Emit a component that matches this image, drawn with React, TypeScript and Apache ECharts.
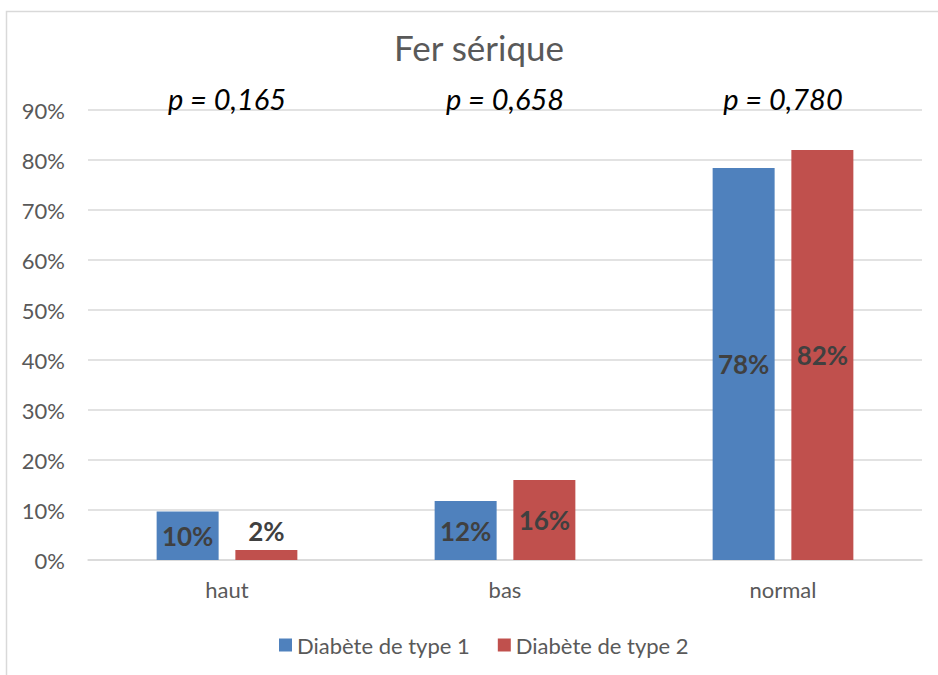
import React, { useEffect, useRef } from "react";
import * as echarts from "echarts";

const categories = ["haut", "bas", "normal"];
const pValues = ["p = 0,165", "p = 0,658", "p = 0,780"];
const seriesNames = ["Diabète de type 1", "Diabète de type 2"];
const type1 = [9.7, 11.8, 78.4];
const type2 = [2, 16, 82];
const type1Labels = ["10%", "12%", "78%"];
const type2Labels = ["2%", "16%", "82%"];
const yTicks = { min: 0, max: 90, interval: 10 };

const FONT = "Lato, 'Open Sans', sans-serif";

export default function App() {
  const ref = useRef<HTMLDivElement>(null);
  useEffect(() => {
    if (!ref.current) return;
    const chart = echarts.init(ref.current, null, { renderer: "svg" });
    const labelStyle = {
      show: true,
      position: "inside",
      fontSize: 26,
      fontWeight: "bold",
      color: "#404040",
      fontFamily: FONT,
    };
    chart.setOption({
      animation: false,
      backgroundColor: "#ffffff",
      textStyle: { fontFamily: FONT },
      title: {
        text: "Fer sérique",
        left: 474,
        textAlign: "center",
        top: 24,
        textStyle: { fontSize: 35, fontWeight: "normal", color: "#595959", fontFamily: FONT },
      },
      graphic: [
        {
          type: "rect",
          shape: { x: 6.5, y: 11.5, width: 960, height: 700 },
          style: { fill: "none", stroke: "#d9d9d9", lineWidth: 1.5 },
          silent: true,
          z: -1,
        },
      ],
      legend: {
        data: seriesNames,
        top: 629,
        left: 274,
        itemWidth: 13,
        itemHeight: 13,
        itemGap: 28,
        icon: "rect",
        textStyle: { fontSize: 22, color: "#595959", fontFamily: FONT },
      },
      grid: { left: 88, right: 16, top: 110, bottom: 115, containLabel: false },
      xAxis: [
        {
          type: "category",
          data: categories,
          axisLine: { show: true, lineStyle: { color: "#d9d9d9", width: 1.5 } },
          axisTick: { show: false },
          axisLabel: { fontSize: 22, color: "#595959", margin: 18, fontFamily: FONT },
        },
        {
          type: "category",
          data: pValues,
          position: "top",
          axisLine: { show: false },
          axisTick: { show: false },
          axisLabel: {
            fontSize: 29,
            fontStyle: "italic",
            color: "#000000",
            margin: -3,
            fontFamily: FONT,
          },
        },
      ],
      yAxis: {
        type: "value",
        min: yTicks.min,
        max: yTicks.max,
        interval: yTicks.interval,
        axisLine: { show: false },
        axisTick: { show: false },
        splitLine: { lineStyle: { color: "#d9d9d9", width: 1.5 } },
        axisLabel: {
          formatter: (v: number) => `${v}%`,
          fontSize: 22,
          color: "#595959",
          margin: 23,
          fontFamily: FONT,
        },
      },
      series: [
        {
          name: seriesNames[0],
          type: "bar",
          xAxisIndex: 0,
          barWidth: "22.3%",
          barGap: "27%",
          itemStyle: { color: "#4F81BD" },
          data: type1.map((v, i) => ({
            value: v,
            label: { ...labelStyle, formatter: type1Labels[i] },
          })),
        },
        {
          name: seriesNames[1],
          type: "bar",
          xAxisIndex: 0,
          barWidth: "22.3%",
          barGap: "27%",
          itemStyle: { color: "#C0504D" },
          data: type2.map((v, i) => ({
            value: v,
            label:
              i === 0
                ? { ...labelStyle, position: "top", distance: 6, formatter: type2Labels[i] }
                : { ...labelStyle, formatter: type2Labels[i] },
          })),
        },
      ],
    });
    return () => chart.dispose();
  }, []);
  return (
    <div
      ref={ref}
      style={{ position: "fixed", left: 0, top: 0, width: 938, height: 675 }}
    />
  );
}
